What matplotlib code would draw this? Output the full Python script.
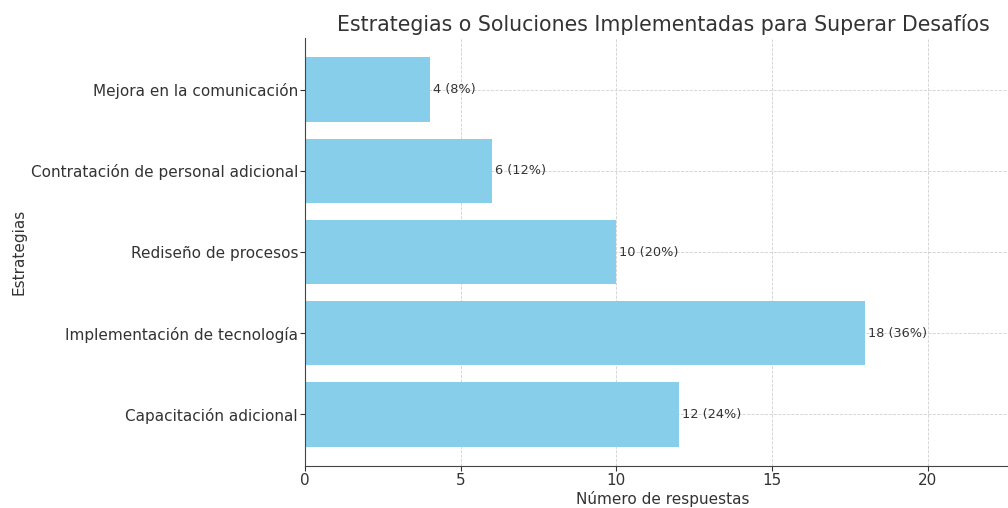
import matplotlib
matplotlib.use("Agg")
import matplotlib.pyplot as plt

estrategias = ["Capacitación adicional", "Implementación de tecnología",
               "Rediseño de procesos", "Contratación de personal adicional",
               "Mejora en la comunicación"]
respuestas = [12, 18, 10, 6, 4]
porcentajes = [24, 36, 20, 12, 8]

plt.rcParams['font.family'] = ['DejaVu Sans']
text_color = '#333333'

fig = plt.figure(figsize=(10.08, 5.08), dpi=100)
ax = fig.add_axes([305/1008, 1 - 466/508, (1021 - 305)/1008, (466 - 38)/508])

ax.barh(estrategias, respuestas, color='skyblue', height=0.8, zorder=2)
for i, (v, p) in enumerate(zip(respuestas, porcentajes)):
    ax.text(v + 0.1, i, f"{v} ({p}%)", va='center', ha='left', fontsize=9.3, color=text_color, zorder=3)

ax.set_xlim(0, 23)
ax.set_xticks([0, 5, 10, 15, 20])
ax.grid(True, linestyle='--', color='#d0d0d0', linewidth=0.6, zorder=0)
ax.set_axisbelow(True)
ax.spines['top'].set_visible(False)
ax.spines['right'].set_visible(False)
for s in ['left', 'bottom']:
    ax.spines[s].set_color('#444444')
ax.tick_params(colors=text_color, labelsize=11)
ax.tick_params(axis='y', pad=1.5)
ax.tick_params(axis='x', pad=1.5)
ax.set_xlabel("Número de respuestas", fontsize=11, color=text_color, labelpad=2)
ax.set_ylabel("Estrategias", fontsize=11, color=text_color, labelpad=3)
ax.set_title("Estrategias o Soluciones Implementadas para Superar Desafíos", fontsize=14.8, color=text_color, pad=5)

fig.savefig("out.png", dpi=100)
